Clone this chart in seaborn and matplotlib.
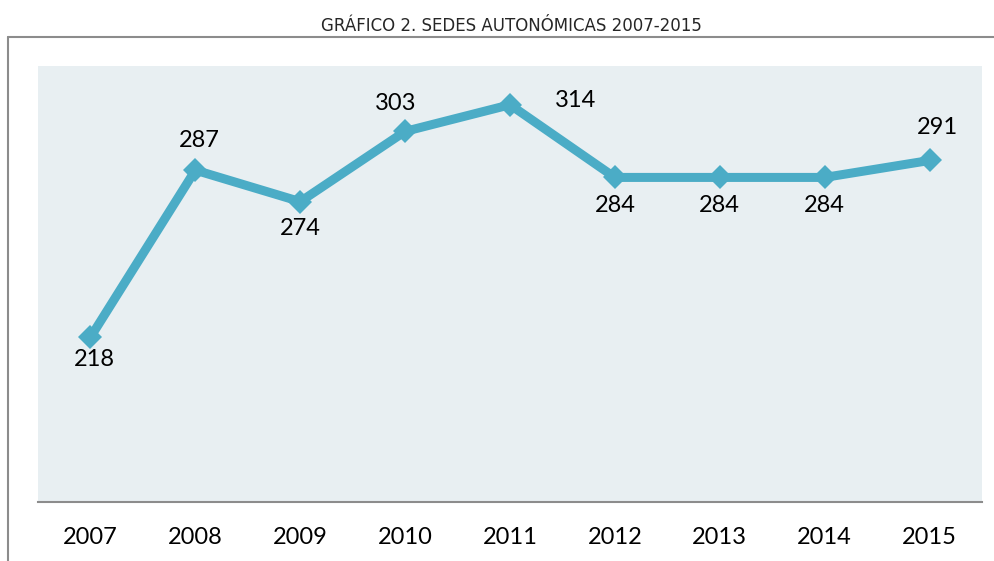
import matplotlib
matplotlib.use("Agg")
import matplotlib.pyplot as plt
import seaborn as sns
import pandas as pd
from matplotlib.lines import Line2D

years = [2007, 2008, 2009, 2010, 2011, 2012, 2013, 2014, 2015]
values = [218, 287, 274, 303, 314, 284, 284, 284, 291]
# label offsets in points (dx, dy)
label_offsets = [(3, -16), (3, 21), (0, -19), (-7, 20), (47, 3), (0, -20), (0, -20), (0, -20), (6, 24)]
title = "GRÁFICO 2. SEDES AUTONÓMICAS 2007-2015"

sns.set_style("white")
plt.rcParams['font.family'] = ['Lato', 'DejaVu Sans']

df = pd.DataFrame({"year": years, "value": values})

fig = plt.figure(figsize=(9.95, 5.61), dpi=100)
W, H = 995, 561
ax = fig.add_axes([38 / W, 1 - 502 / H, (982 - 38) / W, (502 - 66) / H])
ax.set_facecolor("#E8EFF2")

color = "#4BACC6"
sns.lineplot(data=df, x="year", y="value", ax=ax, color=color, linewidth=6.5,
             marker="D", markersize=12, markeredgewidth=0, markerfacecolor=color)

ax.set_xlim(2006.5, 2015.5)
ax.set_ylim(150, 330)
ax.set_xticks(years)
ax.set_xticklabels([str(y) for y in years], fontsize=17, color="black")
ax.set_yticks([])
ax.set_xlabel("")
ax.set_ylabel("")
ax.tick_params(axis="x", length=0, pad=18)
for s in ["top", "left", "right"]:
    ax.spines[s].set_visible(False)
ax.spines["bottom"].set_color("#8C8C8C")
ax.spines["bottom"].set_linewidth(1.5)

for x, y, (dx, dy) in zip(years, values, label_offsets):
    ax.annotate(str(y), (x, y), xytext=(dx, dy), textcoords="offset points",
                ha="center", va="center", fontsize=17, color="black")

# frame lines
fig.add_artist(Line2D([8 / W, 8 / W], [0, 1 - 37 / H], color="#8C8C8C", linewidth=1.5,
                      transform=fig.transFigure))
fig.add_artist(Line2D([8 / W, 1], [1 - 37 / H, 1 - 37 / H], color="#8C8C8C", linewidth=1.5,
                      transform=fig.transFigure))

fig.text(511 / W, 1 - 26 / H, title, ha="center", va="center", fontsize=12,
         color="#262626", family=["DejaVu Sans"])

fig.savefig("out.png", dpi=100)
